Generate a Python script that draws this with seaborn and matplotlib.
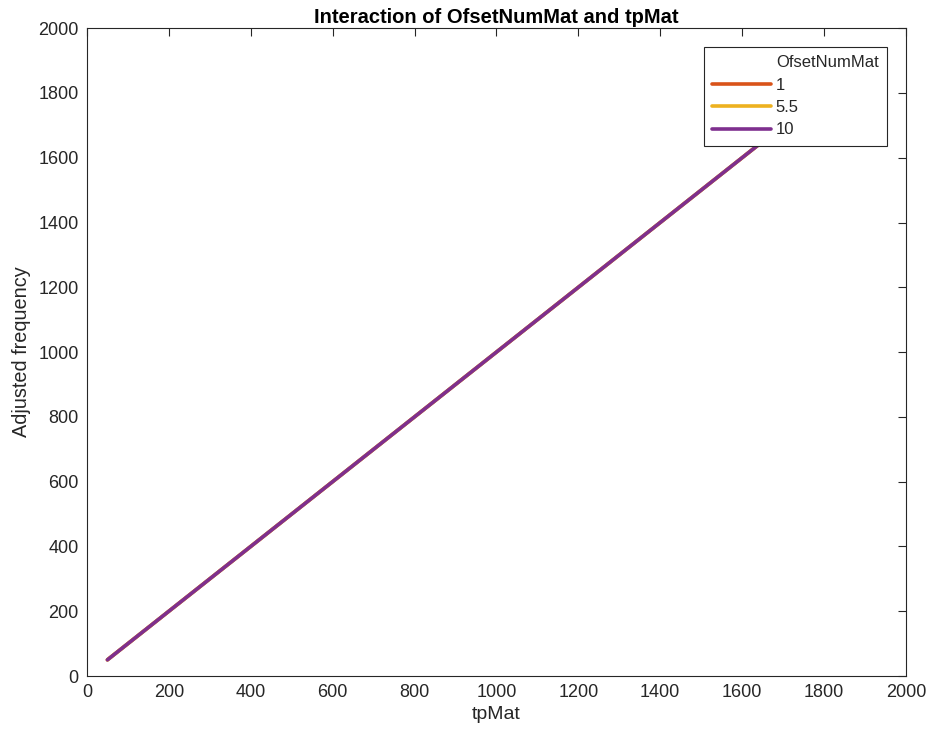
import matplotlib
matplotlib.use("Agg")
import matplotlib.pyplot as plt
from matplotlib.lines import Line2D
import seaborn as sns
import pandas as pd

sns.set_theme(style="white")
plt.rcParams['font.family'] = ['Liberation Sans', 'DejaVu Sans']

offset_levels = ["1", "5.5", "10"]
tp_values = [50, 1900]
freq_values = [50, 1900]
colors = ["#D95319", "#EDB120", "#7E2F8E"]

rows = []
for lvl in offset_levels:
    for x, y in zip(tp_values, freq_values):
        rows.append({"tpMat": x, "Adjusted frequency": y, "OfsetNumMat": lvl})
df = pd.DataFrame(rows)

fig = plt.figure(figsize=(9.32, 7.41), dpi=100)
ax = fig.add_axes([0.0933, 0.0877, 0.8787, 0.8743])
sns.lineplot(data=df, x="tpMat", y="Adjusted frequency", hue="OfsetNumMat",
             hue_order=offset_levels, palette=colors, linewidth=2.6, ax=ax)

ax.set_xlim(0, 2000)
ax.set_ylim(0, 2000)
ticks = list(range(0, 2001, 200))
ax.set_xticks(ticks)
ax.set_yticks(ticks)
ax.tick_params(direction="in", length=6, width=0.8, colors="#262626",
               labelsize=13, top=True, right=True, pad=6)
for s in ax.spines.values():
    s.set_color("#262626")
    s.set_linewidth(0.8)
ax.set_xlabel("tpMat", fontsize=14, color="#262626", labelpad=3)
ax.set_ylabel("Adjusted frequency", fontsize=14.3, color="#262626", labelpad=5)
ax.set_title("Interaction of OfsetNumMat and tpMat", fontsize=14.5,
             fontweight="bold", pad=4, color="black")

handles, labels = ax.get_legend_handles_labels()
title_handle = Line2D([], [], color="none")
leg = ax.legend([title_handle] + handles, ["OfsetNumMat"] + labels,
                loc="upper right", bbox_to_anchor=(0.9768, 0.9707),
                fontsize=12, frameon=True, fancybox=False, framealpha=1,
                handlelength=3.5, handletextpad=0.3, borderpad=0.5,
                labelspacing=0.44, borderaxespad=0)
leg.get_frame().set_edgecolor("#262626")
leg.get_frame().set_linewidth(0.8)
for line in leg.get_lines()[1:]:
    line.set_linewidth(2.6)

fig.savefig("out.png", dpi=100)
